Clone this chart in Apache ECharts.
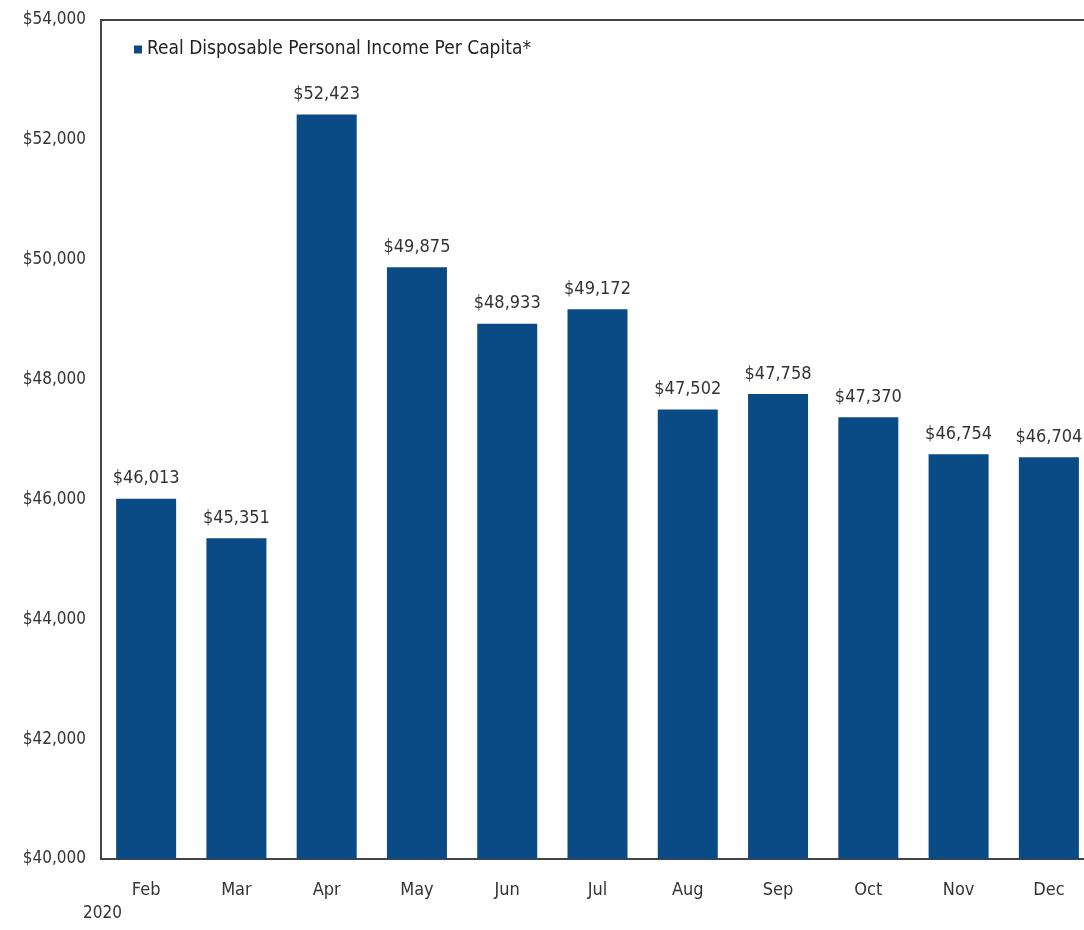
<!DOCTYPE html>
<html><head><meta charset="utf-8">
<script src="https://cdn.jsdelivr.net/npm/echarts@6/dist/echarts.min.js"></script>
<style>html,body{margin:0;padding:0;background:#fff;overflow:hidden}#c{width:1084px;height:930px}</style>
</head><body><div id="c"></div>
<script>
const categories = ['Feb','Mar','Apr','May','Jun','Jul','Aug','Sep','Oct','Nov','Dec'];
const values = [46013,45351,52423,49875,48933,49172,47502,47758,47370,46754,46704];
const seriesName = 'Real Disposable Personal Income Per Capita*';
const yMin = 40000, yMax = 54000, yStep = 2000;
const yearLabel = '2020';
const FONT = '"DejaVu Sans Condensed","Liberation Sans Narrow","Arial Narrow",sans-serif';
const fmt = v => '$' + v.toLocaleString('en-US');
const chart = echarts.init(document.getElementById('c'));
chart.setOption({
  animation:false,
  grid:{left:101,top:20,width:993,height:839,outerBoundsMode:'none',containLabel:false,show:true,borderColor:'#444',borderWidth:2,backgroundColor:'transparent'},
  legend:{show:true,left:129,top:35,itemWidth:8,itemHeight:8,icon:'rect',itemGap:6,
    textStyle:{fontFamily:FONT,fontSize:19,color:'#222'},data:[seriesName]},
  xAxis:{type:'category',data:categories,axisLine:{show:true,lineStyle:{color:'#444',width:2}},
    axisTick:{show:false},axisLabel:{fontFamily:FONT,fontSize:18,color:'#333',margin:22}},
  yAxis:{type:'value',min:yMin,max:yMax,interval:yStep,splitLine:{show:false},
    axisLine:{show:true,lineStyle:{color:'#444',width:2}},axisTick:{show:false},
    axisLabel:{fontFamily:FONT,fontSize:17,color:'#333',margin:15,formatter:v=>fmt(v)}},
  series:[{name:seriesName,type:'bar',data:values,barWidth:60,
    itemStyle:{color:'#0a4a85'},
    label:{show:true,position:'top',distance:11,fontFamily:FONT,fontSize:18,color:'#333',formatter:p=>fmt(p.value)}}],
  graphic:[{type:'text',left:83,top:905,style:{text:yearLabel,fontFamily:FONT,fontSize:17,fill:'#333'}}]
});
</script></body></html>
